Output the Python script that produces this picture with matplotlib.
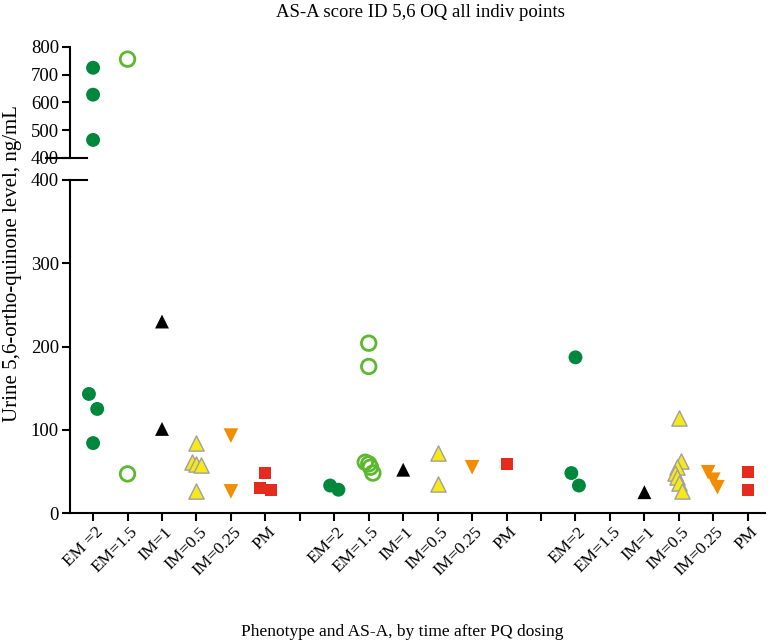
import numpy as np
import matplotlib.pyplot as plt
import matplotlib.transforms as mtransforms

plt.rcParams['font.family'] = ['Liberation Serif', 'DejaVu Serif']

# phenotype labels, one block per sampling time, blank slot between blocks
phenos = ['EM=2', 'EM=1.5', 'IM=1', 'IM=0.5', 'IM=0.25', 'PM']
tick_labels = (['EM =2'] + phenos[1:] + [''] + phenos + [''] + phenos)

# values (ng/mL), per time block
g1 = {
    'EM=2': [725, 628, 465, 143, 125, 84],
    'EM=1.5': [756, 47],
    'IM=1': [230, 101],
    'IM=0.5': [84, 61, 59, 58, 26],
    'IM=0.25': [93, 26],
    'PM': [48, 30, 28],
}
g2 = {
    'EM=2': [33, 28],
    'EM=1.5': [204, 176, 61, 59, 55, 48],
    'IM=1': [52],
    'IM=0.5': [72, 35],
    'IM=0.25': [55],
    'PM': [59],
}
g3 = {
    'EM=2': [187, 48, 33],
    'EM=1.5': [],
    'IM=1': [25],
    'IM=0.5': [114, 62, 55, 48, 43, 36, 27],
    'IM=0.25': [49, 40, 31],
    'PM': [49, 28],
}
# horizontal scatter of overlapping points
j1 = {'EM=2': [0, 0, 0, -0.12, 0.12, 0], 'IM=0.5': [0, -0.12, 0, 0.12, 0],
      'PM': [0, -0.15, 0.15]}
j2 = {'EM=2': [-0.12, 0.12], 'EM=1.5': [0, 0, -0.1, 0, 0.05, 0.12]}
j3 = {'EM=2': [0, -0.12, 0.1], 'IM=0.5': [0, 0.05, -0.05, -0.1, -0.05, 0, 0.1],
      'IM=0.25': [-0.15, 0, 0.12]}

styles = {
    'EM=2': dict(marker='o', color='#00873e', edgecolor='none', s=100),
    'EM=1.5': dict(marker='o', facecolor='none', edgecolor='#5cb82e', linewidths=2, s=110),
    'IM=1': dict(marker='^', color='black', edgecolor='none', s=100),
    'IM=0.5': dict(marker='^', color='#f7e81a', edgecolor='#a0a0a0', linewidths=1, s=120),
    'IM=0.25': dict(marker='v', color='#f28c00', edgecolor='none', s=110),
    'PM': dict(marker='s', color='#e52a1e', edgecolor='none', s=75),
}

fig = plt.figure(figsize=(7.7, 6.44), dpi=100)
ax_top = fig.add_axes([0.0909, 0.7547, 0.9026, 0.1724])
ax = fig.add_axes([0.0909, 0.2034, 0.9026, 0.5171])

for start, grp, jit in [(0, g1, j1), (7, g2, j2), (14, g3, j3)]:
    for i, p in enumerate(phenos):
        vals = grp[p]
        if not vals:
            continue
        off = jit.get(p, [0] * len(vals))
        xs = start + i + np.array(off)
        for a in (ax, ax_top):
            a.scatter(xs, vals, zorder=3, **styles[p])

xlim = (-0.67, 19.5)
ax.set_xlim(*xlim)
ax_top.set_xlim(*xlim)
ax.set_ylim(0, 400)
ax_top.set_ylim(400, 800)

for a in (ax, ax_top):
    for s in ['top', 'right']:
        a.spines[s].set_visible(False)
    a.spines['left'].set_linewidth(1.5)
    a.tick_params(axis='y', labelsize=13.5, width=1.5, length=6, pad=2)
ax_top.spines['bottom'].set_visible(False)
ax_top.set_xticks([])
ax_top.set_yticks([400, 500, 600, 700, 800])
ax.set_yticks([0, 100, 200, 300, 400])
ax.spines['bottom'].set_linewidth(1.5)

ax.set_xticks(range(len(tick_labels)))
ax.set_xticklabels(tick_labels, rotation=45, ha='right', va='center',
                   rotation_mode='anchor', fontsize=12.5)
ax.tick_params(axis='x', width=1.5, length=6, pad=6)
shift = mtransforms.ScaledTranslation(8 / 100, 0, fig.dpi_scale_trans)
for lbl in ax.get_xticklabels():
    lbl.set_transform(lbl.get_transform() + shift)
for k, t in enumerate(ax.xaxis.get_major_ticks()):
    if tick_labels[k] == '':
        t.tick1line.set_color('#999999')

# break marks
ax_top.plot([-0.035, 0.025], [400, 400], transform=ax_top.get_yaxis_transform(),
            color='black', lw=1.5, clip_on=False)
ax.plot([-0.0, 0.025], [400, 400], transform=ax.get_yaxis_transform(),
        color='black', lw=1.5, clip_on=False)

fig.text(0.546, 0.981, 'AS-A score ID 5,6 OQ all indiv points', ha='center',
         va='center', fontsize=13.5)
fig.text(0.016, 0.59, 'Urine 5,6-ortho-quinone level, ng/mL', rotation=90,
         ha='center', va='center', fontsize=15)
fig.text(0.522, 0.018, 'Phenotype and AS-A, by time after PQ dosing', ha='center',
         va='center', fontsize=12.5)

fig.savefig('out.png', dpi=100)
